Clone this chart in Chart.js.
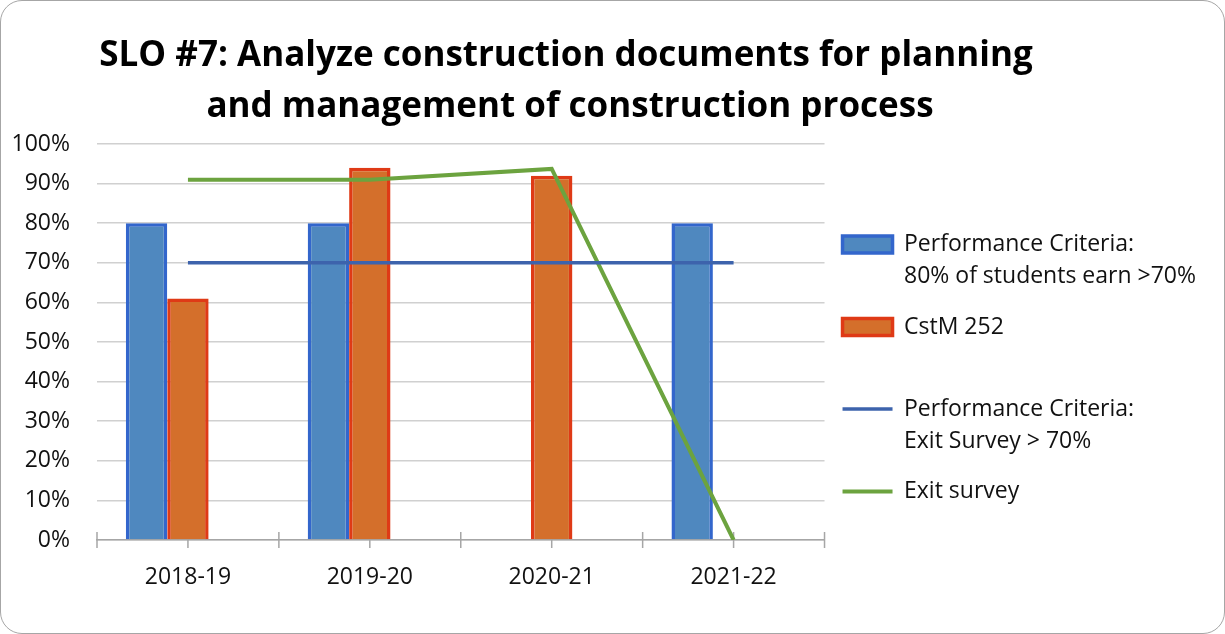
<!DOCTYPE html>
<html lang="en">
<head>
<meta charset="UTF-8">
<title>SLO #7</title>
<script src="https://cdn.jsdelivr.net/npm/chart.js"></script>
<style>
    body { margin: 0; background: #fff; }
    .marco { position: relative; width: 1225px; height: 634px; }
    .borde {
        position: absolute; left: 0; top: 0; width: 1225px; height: 634px;
        box-sizing: border-box; border: 1.5px solid #a6a6a6; border-radius: 22px;
    }
    .lienzo { position: absolute; left: 0; top: 0; width: 1225px; height: 634px; }
</style>
</head>
<body>
<div class="marco">
    <div class="borde"></div>
    <div class="lienzo"><canvas id="grafico"></canvas></div>
</div>

<script>
    // datos
    const anos = ['2018-19', '2019-20', '2020-21', '2021-22'];
    const criterioBarras = [80, 80, null, 80];
    const cstm252 = [61, 94, 92, null];
    const huecoVacio = [null, null, null, null];   // serie vacia que ocupa el tercer hueco
    const criterioEncuesta = [70, 70, 70, 70];
    const encuestaSalida = [91, 91, 93.7, 0];
    const tituloLineas = ['SLO #7: Analyze construction documents for planning',
                          'and management of construction process'];

    const fuente = "'Open Sans', sans-serif";
    Chart.defaults.font.family = fuente;
    Chart.defaults.color = '#111';

    // titulo centrado como en el original (no en el centro del lienzo)
    const tituloPlugin = {
        id: 'tituloPlugin',
        afterDraw(chart) {
            const ctx = chart.ctx;
            ctx.save();
            ctx.font = 'bold 35px ' + fuente;
            ctx.fillStyle = '#000';
            ctx.textAlign = 'center';
            ctx.textBaseline = 'alphabetic';
            ctx.fillText(tituloLineas[0], 566, 66);
            ctx.fillText(tituloLineas[1], 570, 117);
            ctx.restore();
        }
    };

    // marcas del eje x que cruzan la linea (bordes y centros de categoria)
    const marcasPlugin = {
        id: 'marcasPlugin',
        beforeDatasetsDraw(chart) {
            const x = chart.scales.x;
            const y0 = chart.scales.y.getPixelForValue(0);
            const ctx = chart.ctx;
            ctx.save();
            ctx.strokeStyle = '#a6a6a6';
            ctx.lineWidth = 1.5;
            ctx.beginPath();
            for (let i = 0; i <= anos.length * 2; i++) {
                const px = x.getPixelForValue(i / 2 - 0.5);
                ctx.moveTo(px, y0 - 8);
                ctx.lineTo(px, y0 + 8);
            }
            ctx.stroke();
            ctx.restore();
        }
    };

    const ctx = document.getElementById('grafico').getContext('2d');
    const grafico = new Chart(ctx, {
        data: {
            labels: anos,
            datasets: [
                {
                    type: 'bar',
                    label: ['Performance Criteria:', '80% of students earn >70%'],
                    data: criterioBarras,
                    backgroundColor: '#4f88bf',
                    borderColor: '#3366cc',
                    borderWidth: 3.5,
                    order: 1
                },
                {
                    type: 'bar',
                    label: 'CstM 252',
                    data: cstm252,
                    backgroundColor: '#d46f2b',
                    borderColor: '#df3a16',
                    borderWidth: 3.5,
                    order: 1
                },
                {
                    type: 'bar',
                    label: '',
                    data: huecoVacio,
                    backgroundColor: 'rgba(0,0,0,0)',
                    borderColor: 'rgba(0,0,0,0)',
                    borderWidth: 0,
                    order: 1
                },
                {
                    type: 'line',
                    label: ['Performance Criteria:', 'Exit Survey > 70%'],
                    data: criterioEncuesta,
                    borderColor: '#3d63ac',
                    backgroundColor: '#3d63ac',
                    borderWidth: 3.5,
                    pointRadius: 0,
                    tension: 0,
                    order: 0
                },
                {
                    type: 'line',
                    label: 'Exit survey',
                    data: encuestaSalida,
                    borderColor: '#6ca33f',
                    backgroundColor: '#6ca33f',
                    borderWidth: 4,
                    pointRadius: 0,
                    tension: 0,
                    order: 0
                }
            ]
        },
        options: {
            responsive: true,
            maintainAspectRatio: false,
            animation: false,
            devicePixelRatio: 1,
            categoryPercentage: 0.683,
            barPercentage: 1,
            layout: { padding: { left: 12, right: 19, top: 144, bottom: 42 } },
            scales: {
                x: {
                    grid: { offset: true, drawOnChartArea: false, drawTicks: false },
                    border: { color: '#a6a6a6', width: 1.5 },
                    ticks: { font: { size: 23 }, padding: 24, color: '#111' },
                    afterFit: (s) => { s.height = 52; }
                },
                y: {
                    min: 0,
                    max: 100,
                    ticks: {
                        stepSize: 10,
                        font: { size: 23 },
                        padding: 27,
                        color: '#111',
                        callback: (v) => v + '%'
                    },
                    grid: { color: '#d0d0d0', lineWidth: 1.5, drawTicks: false },
                    border: { display: false },
                    afterFit: (s) => { s.width = 85; }
                }
            },
            plugins: {
                title: { display: false },
                tooltip: { enabled: false },
                legend: {
                    position: 'right',
                    align: 'center',
                    maxWidth: 460,
                    labels: {
                        font: { size: 23, lineHeight: 1.4 },
                        color: '#111',
                        padding: 18,
                        boxHeight: 17,
                        usePointStyle: true,
                        pointStyleWidth: 50,
                        sort: (a, b) => a.datasetIndex - b.datasetIndex,
                        generateLabels(chart) {
                            const items = Chart.defaults.plugins.legend.labels.generateLabels(chart);
                            items.forEach((it) => {
                                const ds = chart.data.datasets[it.datasetIndex];
                                if (ds.type === 'line') {
                                    it.pointStyle = 'line';
                                    it.lineWidth = ds.borderWidth;
                                    it.strokeStyle = ds.borderColor;
                                } else {
                                    it.pointStyle = 'rect';
                                    it.lineWidth = ds.borderWidth;
                                }
                            });
                            return items;
                        }
                    }
                }
            }
        },
        plugins: [tituloPlugin, marcasPlugin]
    });
</script>
</body>
</html>
